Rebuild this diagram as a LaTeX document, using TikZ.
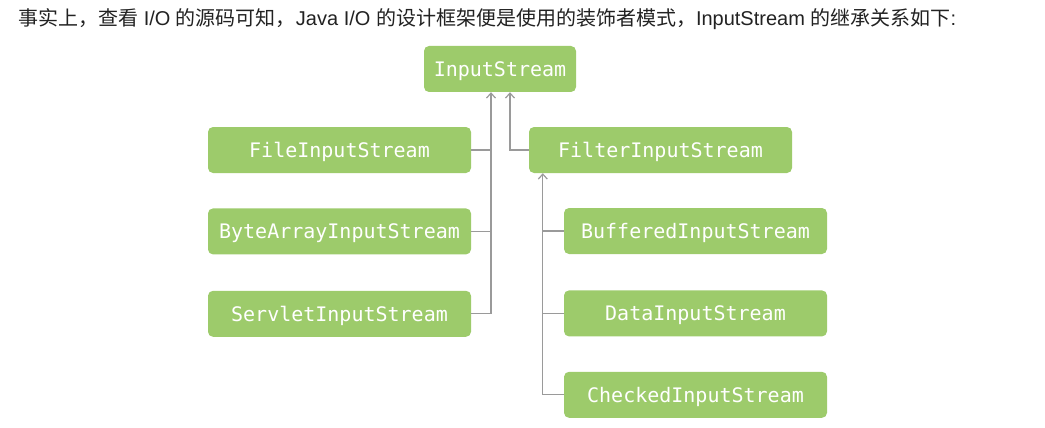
\documentclass[tikz,border=0pt]{standalone}
\usepackage{fontspec}
\setmainfont{Liberation Sans}
\setmonofont{DejaVu Sans Mono}
\newfontfamily\cjk{Noto Sans CJK SC}
\usetikzlibrary{arrows.meta,positioning}
\definecolor{leaf}{HTML}{9DCB6B}
\definecolor{wire}{HTML}{9A9A9A}
\definecolor{ink}{HTML}{222222}

\begin{document}
\begin{tikzpicture}[x=1pt,y=-1pt,font=\ttfamily\fontsize{20}{24}\selectfont,
 cls/.style={fill=leaf,text=white,rounded corners=5pt,minimum width=263pt,minimum height=46pt,
   inner sep=0pt,text height=14.6pt,text depth=0pt},
 link/.style={wire,line width=1.2pt},
 up/.style={link,{Straight Barb[length=5pt,width=9pt]}-}]
\useasboundingbox (0,0) rectangle (1045,428);

\node[anchor=base west,text=ink,font=\fontsize{20}{24}\selectfont,inner sep=0pt] (title) at (18,26)
 {{\cjk 事实上，查看} I/O {\cjk 的源码可知，}Java I/O {\cjk 的设计框架便是使用的装饰者模式，}InputStream {\cjk 的继承关系如下}:};

\node[cls,minimum width=152pt] (input) at (500,69) {InputStream};
\node[cls] (file) at (339.5,150) {FileInputStream};
\node[cls,below=35pt of file] (bytearray) {ByteArrayInputStream};
\node[cls,below=36pt of bytearray] (servlet) {ServletInputStream};
\node[cls] (filter) at (660.5,150) {FilterInputStream};
\node[cls] (buffered) at (695.5,231) {BufferedInputStream};
\node[cls,below=36pt of buffered] (data) {DataInputStream};
\node[cls,below=35pt of data] (checked) {CheckedInputStream};

\coordinate (lbus) at ([xshift=-9pt]input.south);
\coordinate (rbus) at ([xshift=-21pt]buffered.west);
\draw[up] (lbus) |- (servlet.east);
\draw[link] (file.east) -- (file.east -| lbus);
\draw[link] (bytearray.east) -- (bytearray.east -| lbus);
\draw[up] ([xshift=10pt]input.south) |- (filter.west);
\draw[up] (filter.south -| rbus) |- (checked.west);
\draw[link] (buffered.west) -- (buffered.west -| rbus);
\draw[link] (data.west) -- (data.west -| rbus);
\end{tikzpicture}
\end{document}
